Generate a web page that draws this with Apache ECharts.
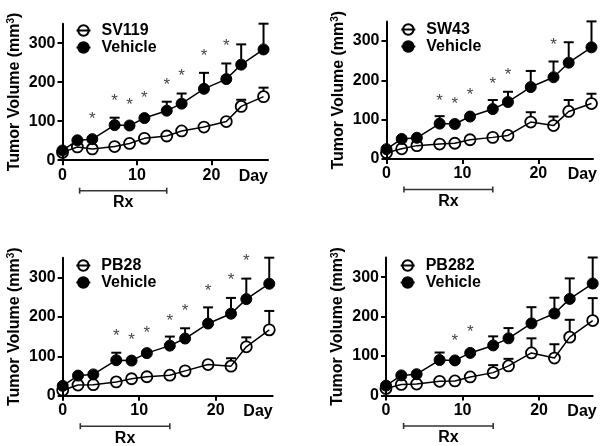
<!DOCTYPE html>
<html>
<head>
<meta charset="utf-8">
<script src="https://cdn.jsdelivr.net/npm/echarts@6/dist/echarts.min.js"></script>
<style>
html,body{margin:0;padding:0;background:#fff;}
#c{width:600px;height:446px;}
</style>
</head>
<body>
<div id="c"></div>
<script>
// ---- data ----
const days = [0, 2, 4, 7, 9, 11, 14, 16, 19, 22, 24, 27];
const xTicks = [0, 10, 20];
const yTicks = [0, 100, 200, 300];
const rxSpan = [2.3, 14];

const vehicleMean = [25, 51, 54, 90, 89, 108, 127, 145, 183, 208, 245, 284];
const vehicleErr  = [5, 5, 6, 19, 7, 7, 23, 26, 41, 40, 52, 66];

const sv119Mean = [20, 34, 29, 35, 43, 56, 62, 75, 85, 99, 138, 163];
const sv119Err  = [3, 5, 4, 5, 5, 6, 7, 8, 8, 16, 17, 23];

const sw43Mean = [16, 26, 34, 38, 40, 49, 55, 60, 94, 85, 121, 141];
const sw43Err  = [3, 4, 5, 4, 5, 15, 6, 6, 25, 23, 29, 25];

const pb28Mean = [14, 27, 28, 35, 43, 48, 52, 63, 79, 75, 124, 167];
const pb28Err  = [3, 4, 4, 5, 5, 5, 5, 16, 15, 20, 24, 48];

const pb282Mean = [18, 28, 29, 36, 37, 47, 58, 75, 108, 95, 148, 190];
const pb282Err  = [3, 4, 4, 5, 5, 5, 19, 18, 37, 35, 44, 57];

const sv119Stars = [[4, 114], [7, 162], [9, 152], [11, 169], [14, 202], [16, 225], [19, 277], [22, 303]];
const sw43Stars  = [[7, 158], [9, 150], [11, 171], [14, 200], [16, 223], [22, 300]];
const pb28Stars  = [[7, 160], [9, 150], [11, 169], [14, 200], [16, 223], [19, 276], [22, 302], [24, 352]];
const pb282Stars = [[9, 148], [11, 170]];

const panels = [
  {name: 'SV119', mean: sv119Mean, err: sv119Err, stars: sv119Stars},
  {name: 'SW43',  mean: sw43Mean,  err: sw43Err,  stars: sw43Stars},
  {name: 'PB28',  mean: pb28Mean,  err: pb28Err,  stars: pb28Stars},
  {name: 'PB282', mean: pb282Mean, err: pb282Err, stars: pb282Stars}
];

// ---- layout / style ----
const layout = [
  {left: 62.5, top: 23.7, width: 205.5, height: 136.5, xMax: 27.6, legL: 75.5, legT: 22, dayGap: 0},
  {left: 386.5, top: 21.4, width: 206.5, height: 137.6, xMax: 27.2, legL: 400.3, legT: 21, dayGap: 4},
  {left: 62.7, top: 257.7, width: 210, height: 138, xMax: 27.45, legL: 75.3, legT: 257, dayGap: 0},
  {left: 386, top: 257.5, width: 206.7, height: 138, xMax: 27.0, legL: 399.7, legT: 257, dayGap: 4}
];
const FONT = '"Liberation Sans", Arial, sans-serif';
const yMax = 350;
const R = 5.5; // marker radius in px

function errRender(params, api) {
  const x = api.value(0), m = api.value(1), e = api.value(2);
  const p0 = api.coord([x, m]);
  const p1 = api.coord([x, m + e]);
  const yStart = p0[1] - R;
  if (p1[1] > yStart - 1) return {type: 'group', children: []};
  const st = {stroke: '#000', lineWidth: 2};
  return {type: 'group', children: [
    {type: 'line', shape: {x1: p0[0], y1: yStart, x2: p1[0], y2: p1[1]}, style: st},
    {type: 'line', shape: {x1: p1[0] - 5, y1: p1[1], x2: p1[0] + 5, y2: p1[1]}, style: st}
  ]};
}
function rxRender(params, api) {
  const a = api.coord([api.value(0), 0]);
  const b = api.coord([api.value(1), 0]);
  const y = a[1] + 30.5;
  const st = {stroke: '#333', lineWidth: 1.6};
  return {type: 'group', children: [
    {type: 'line', shape: {x1: a[0], y1: y, x2: b[0], y2: y}, style: st},
    {type: 'line', shape: {x1: a[0], y1: y - 3, x2: a[0], y2: y + 3}, style: st},
    {type: 'line', shape: {x1: b[0], y1: y - 3, x2: b[0], y2: y + 3}, style: st},
    {type: 'text', x: (a[0] + b[0]) / 2, y: y + 12, style: {text: 'Rx', font: 'bold 16px ' + FONT, fill: '#000', align: 'center', verticalAlign: 'middle'}}
  ]};
}

const grid = [], xAxis = [], yAxis = [], series = [], legend = [];
panels.forEach((p, i) => {
  const L = layout[i];
  grid.push({left: L.left, top: L.top, width: L.width, height: L.height});
  xAxis.push({
    type: 'value', gridIndex: i, min: 0, max: L.xMax,
    name: 'Day', nameLocation: 'end', nameGap: L.dayGap,
    nameTextStyle: {fontFamily: FONT, fontSize: 16, fontWeight: 'bold', color: '#000', align: 'right', verticalAlign: 'top', padding: [8, 0, 0, 0]},
    axisLine: {lineStyle: {color: '#000', width: 2}},
    axisTick: {length: 5, lineStyle: {color: '#000', width: 2}, customValues: xTicks},
    axisLabel: {customValues: xTicks, margin: 7, fontFamily: FONT, fontSize: 16, fontWeight: 'bold', color: '#000'},
    splitLine: {show: false}
  });
  yAxis.push({
    type: 'value', gridIndex: i, min: 0, max: yMax,
    name: 'Tumor Volume (mm{s|3})', nameLocation: 'middle', nameRotate: 90, nameGap: 40,
    nameTextStyle: {fontFamily: FONT, fontSize: 16, fontWeight: 'bold', color: '#000',
      rich: {s: {fontFamily: FONT, fontSize: 10, fontWeight: 'bold', color: '#000', verticalAlign: 'top'}}},
    axisLine: {lineStyle: {color: '#000', width: 2}},
    axisTick: {length: 5, lineStyle: {color: '#000', width: 2}, customValues: yTicks},
    axisLabel: {customValues: yTicks, margin: 7, fontFamily: FONT, fontSize: 16, fontWeight: 'bold', color: '#000'},
    splitLine: {show: false}
  });
  // error bars
  series.push({type: 'custom', xAxisIndex: i, yAxisIndex: i, z: 1, clip: false, silent: true,
    renderItem: errRender, data: days.map((d, k) => [d, p.mean[k], p.err[k]])});
  series.push({type: 'custom', xAxisIndex: i, yAxisIndex: i, z: 1, clip: false, silent: true,
    renderItem: errRender, data: days.map((d, k) => [d, vehicleMean[k], vehicleErr[k]])});
  // treatment line (open circles)
  series.push({type: 'line', name: p.name, xAxisIndex: i, yAxisIndex: i, z: 3, silent: true,
    symbol: 'circle', symbolSize: 11,
    itemStyle: {color: 'rgba(255,255,255,0)', borderColor: '#000', borderWidth: 1.8},
    lineStyle: {color: '#000', width: 1.5},
    data: days.map((d, k) => [d, p.mean[k]])});
  // vehicle line
  series.push({type: 'line', name: 'Vehicle', xAxisIndex: i, yAxisIndex: i, z: 4, silent: true,
    symbol: 'circle', symbolSize: 11,
    itemStyle: {color: '#000', borderColor: '#000', borderWidth: 1},
    lineStyle: {color: '#000', width: 1.5},
    data: days.map((d, k) => [d, vehicleMean[k]])});
  // asterisks
  series.push({type: 'scatter', xAxisIndex: i, yAxisIndex: i, z: 5, clip: false, silent: true,
    symbolSize: 1, itemStyle: {color: 'rgba(0,0,0,0)'},
    label: {show: true, position: 'inside', formatter: '*', offset: [0, 4], fontFamily: FONT, fontSize: 17, color: '#111'},
    data: p.stars});
  // Rx bar
  series.push({type: 'custom', xAxisIndex: i, yAxisIndex: i, z: 2, clip: false, silent: true,
    renderItem: rxRender, data: [rxSpan]});
  legend.push({
    orient: 'vertical', left: L.legL, top: L.legT, selectedMode: false,
    itemWidth: 14, itemHeight: 13, itemGap: 0, padding: 0,
    textStyle: {fontFamily: FONT, fontSize: 16, fontWeight: 'bold', color: '#000', lineHeight: 17, padding: [0, 0, 0, 6]},
    data: [p.name, 'Vehicle']
  });
});

const chart = echarts.init(document.getElementById('c'), null, {renderer: 'canvas'});
chart.setOption({animation: false, backgroundColor: '#fff', grid, xAxis, yAxis, series, legend});
</script>
</body>
</html>
